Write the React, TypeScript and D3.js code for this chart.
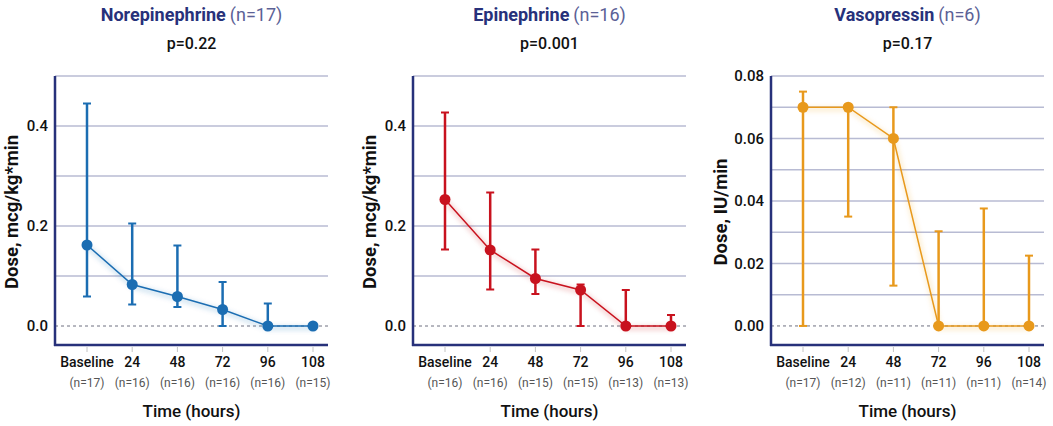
import * as d3 from "d3";

const WIDTH = 1053;
const HEIGHT = 426;
const PLOT_TOP = 76;
const PLOT_BOTTOM = 345;
const PLOT_WIDTH = 273;

const timeLabels = ["Baseline", "24", "48", "72", "96", "108"];

const neCounts = ["(n=17)", "(n=16)", "(n=16)", "(n=16)", "(n=16)", "(n=15)"];
const neMean = [0.162, 0.083, 0.059, 0.033, 0, 0];
const neUpper = [0.445, 0.205, 0.161, 0.088, 0.045, 0];
const neLower = [0.059, 0.043, 0.038, 0, 0, 0];

const epiCounts = ["(n=16)", "(n=16)", "(n=15)", "(n=15)", "(n=13)", "(n=13)"];
const epiMean = [0.253, 0.152, 0.095, 0.072, 0, 0];
const epiUpper = [0.427, 0.267, 0.153, 0.083, 0.072, 0.022];
const epiLower = [0.153, 0.073, 0.064, 0, 0, 0];

const vpCounts = ["(n=17)", "(n=12)", "(n=11)", "(n=11)", "(n=11)", "(n=14)"];
const vpMean = [0.07, 0.07, 0.06, 0, 0, 0];
const vpUpper = [0.075, 0.07, 0.07, 0.0303, 0.0376, 0.0225];
const vpLower = [0, 0.035, 0.0129, 0, 0, 0];

const neGrid = [0.1, 0.2, 0.3, 0.4, 0.5];
const neTicks = [0, 0.2, 0.4];
const vpGrid = [0.01, 0.02, 0.03, 0.04, 0.05, 0.06, 0.07, 0.08];
const vpTicks = [0, 0.02, 0.04, 0.06, 0.08];

const NAVY = "#27317a";
const FONT = "Roboto, 'Noto Sans', sans-serif";

type PanelProps = {
  left: number;
  title: string;
  titleN: string;
  pValue: string;
  yLabel: string;
  yLabelOffset: number;
  yDomain: [number, number];
  grid: number[];
  ticks: number[];
  tickDigits: number;
  counts: string[];
  mean: number[];
  upper: number[];
  lower: number[];
  color: string;
  id: string;
};

function Panel(p: PanelProps) {
  const right = p.left + PLOT_WIDTH;
  const cx = p.left + PLOT_WIDTH / 2;

  const x = d3
    .scalePoint<string>()
    .domain(timeLabels)
    .range([p.left + 32, right - 15]);

  const y = d3.scaleLinear().domain(p.yDomain).range([PLOT_BOTTOM, PLOT_TOP]);

  const pts = timeLabels.map((t, i) => ({ t, v: p.mean[i] }));
  const line = d3
    .line<{ t: string; v: number }>()
    .x((d) => x(d.t) ?? 0)
    .y((d) => y(d.v));
  const path = line(pts) ?? "";

  return (
    <g>
      {/* title */}
      <text x={cx} y={21} textAnchor="middle" fontFamily={FONT} fontSize={18}>
        <tspan fontWeight={700} fill={NAVY}>
          {p.title}
        </tspan>
        <tspan fill="#5b6196" dx={4}>
          {p.titleN}
        </tspan>
      </text>
      <text
        x={cx}
        y={49}
        textAnchor="middle"
        fontFamily={FONT}
        fontSize={16}
        fontWeight={500}
        fill="#111"
      >
        {p.pValue}
      </text>

      {/* grid */}
      {p.grid.map((g) => (
        <line
          key={g}
          x1={p.left}
          x2={right}
          y1={y(g)}
          y2={y(g)}
          stroke="#b8bbd3"
          strokeWidth={1.5}
        />
      ))}
      <line
        x1={p.left}
        x2={right}
        y1={y(0)}
        y2={y(0)}
        stroke="#6f7180"
        strokeWidth={1}
        strokeDasharray="3,3"
      />

      {/* y ticks */}
      {p.ticks.map((t) => (
        <text
          key={t}
          x={p.left - 7}
          y={y(t)}
          dy="0.35em"
          textAnchor="end"
          fontFamily={FONT}
          fontSize={15}
          fontWeight={500}
          fill="#111"
        >
          {t.toFixed(p.tickDigits)}
        </text>
      ))}

      {/* axes */}
      <line x1={p.left} x2={p.left} y1={PLOT_TOP} y2={PLOT_BOTTOM + 1} stroke={NAVY} strokeWidth={2.5} />
      <line x1={p.left - 1} x2={right} y1={PLOT_BOTTOM} y2={PLOT_BOTTOM} stroke={NAVY} strokeWidth={2.5} />

      {/* x ticks */}
      {timeLabels.map((t, i) => (
        <g key={t}>
          <line
            x1={x(t)}
            x2={x(t)}
            y1={PLOT_BOTTOM + 2}
            y2={PLOT_BOTTOM + 7}
            stroke="#c4c4c4"
            strokeWidth={1}
          />
          <text
            x={x(t)}
            y={367}
            textAnchor="middle"
            fontFamily={FONT}
            fontSize={14}
            fontWeight={500}
            fill="#111"
          >
            {t}
          </text>
          <text
            x={x(t)}
            y={387}
            textAnchor="middle"
            fontFamily={FONT}
            fontSize={12}
            fill="#555"
          >
            {p.counts[i]}
          </text>
        </g>
      ))}

      <text
        x={cx}
        y={417}
        textAnchor="middle"
        fontFamily={FONT}
        fontSize={17}
        fontWeight={500}
        fill="#111"
      >
        Time (hours)
      </text>

      <text
        transform={`translate(${p.left - p.yLabelOffset},212) rotate(-90)`}
        textAnchor="middle"
        dy="0.35em"
        fontFamily={FONT}
        fontSize={18.5}
        fontWeight={700}
        fill="#111"
      >
        {p.yLabel}
      </text>

      {/* line with soft shadow */}
      <path
        d={path}
        fill="none"
        stroke={p.color}
        strokeOpacity={0.14}
        strokeWidth={6}
        filter={`url(#blur-${p.id})`}
        transform="translate(1,2)"
      />
      <path d={path} fill="none" stroke={p.color} strokeWidth={1.5} />

      {/* error bars */}
      {timeLabels.map((t, i) => {
        const xi = x(t) ?? 0;
        const yu = y(p.upper[i]);
        const yl = y(p.lower[i]);
        if (Math.abs(yu - yl) < 0.5) return null;
        return (
          <g key={t} stroke={p.color}>
            <line x1={xi} x2={xi} y1={yu} y2={yl} strokeWidth={2.5} />
            <line x1={xi - 4} x2={xi + 4} y1={yu} y2={yu} strokeWidth={2} />
            <line x1={xi - 4} x2={xi + 4} y1={yl} y2={yl} strokeWidth={2} />
          </g>
        );
      })}

      {/* markers */}
      {pts.map((d) => (
        <circle key={d.t} cx={x(d.t)} cy={y(d.v)} r={5.5} fill={p.color} />
      ))}
    </g>
  );
}

export default function App() {
  return (
    <div>
      <style>{`body{margin:0;background:#fff}`}</style>
      <svg width={WIDTH} height={HEIGHT} viewBox={`0 0 ${WIDTH} ${HEIGHT}`} style={{ display: "block" }}>
        <defs>
          {["ne", "epi", "vp"].map((id) => (
            <filter key={id} id={`blur-${id}`} x="-10%" y="-50%" width="120%" height="200%">
              <feGaussianBlur stdDeviation={2} />
            </filter>
          ))}
        </defs>
        <Panel
          id="ne"
          left={55}
          title="Norepinephrine"
          titleN="(n=17)"
          pValue="p=0.22"
          yLabel="Dose, mcg/kg*min"
          yLabelOffset={43}
          yDomain={[-0.038, 0.5]}
          grid={neGrid}
          ticks={neTicks}
          tickDigits={1}
          counts={neCounts}
          mean={neMean}
          upper={neUpper}
          lower={neLower}
          color="#1b6db2"
        />
        <Panel
          id="epi"
          left={413}
          title="Epinephrine"
          titleN="(n=16)"
          pValue="p=0.001"
          yLabel="Dose, mcg/kg*min"
          yLabelOffset={43}
          yDomain={[-0.038, 0.5]}
          grid={neGrid}
          ticks={neTicks}
          tickDigits={1}
          counts={epiCounts}
          mean={epiMean}
          upper={epiUpper}
          lower={epiLower}
          color="#c8121e"
        />
        <Panel
          id="vp"
          left={771}
          title="Vasopressin"
          titleN="(n=6)"
          pValue="p=0.17"
          yLabel="Dose, IU/min"
          yLabelOffset={50}
          yDomain={[-0.0061, 0.08]}
          grid={vpGrid}
          ticks={vpTicks}
          tickDigits={2}
          counts={vpCounts}
          mean={vpMean}
          upper={vpUpper}
          lower={vpLower}
          color="#e8991c"
        />
      </svg>
    </div>
  );
}
